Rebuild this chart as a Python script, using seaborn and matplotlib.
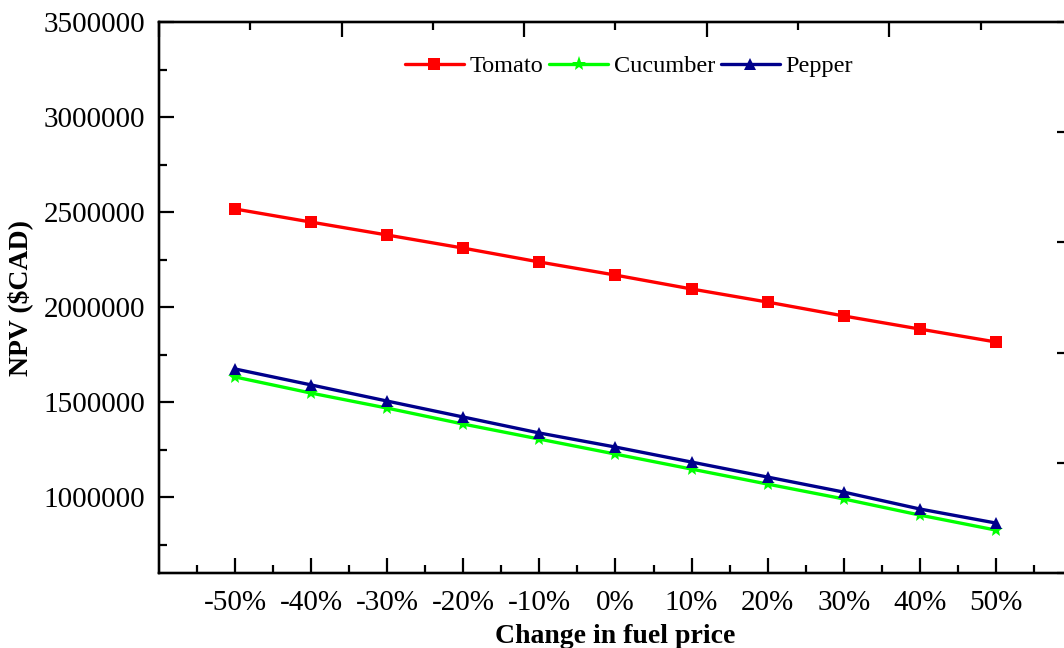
import matplotlib
matplotlib.use("Agg")
import matplotlib.pyplot as plt
from matplotlib.ticker import MultipleLocator, FuncFormatter
import pandas as pd
import seaborn as sns

# Sensitivity of NPV to fuel price change
fuel_change = [-50, -40, -30, -20, -10, 0, 10, 20, 30, 40, 50]
tomato = [2516000, 2447000, 2379000, 2310000, 2237000, 2168000,
          2095000, 2026000, 1953000, 1884000, 1816000]
cucumber = [1632000, 1547000, 1468000, 1384000, 1305000, 1226000,
            1147000, 1068000, 990000, 905000, 826000]
pepper = [1674000, 1590000, 1505000, 1421000, 1337000, 1263000,
          1184000, 1105000, 1026000, 937000, 863000]
crops = ["Tomato", "Cucumber", "Pepper"]
colors = {"Tomato": "#ff0000", "Cucumber": "#00ff00", "Pepper": "#00008b"}
markers = {"Tomato": "s", "Cucumber": "*", "Pepper": "^"}

df = pd.concat([
    pd.DataFrame({"change": fuel_change, "npv": vals, "crop": name})
    for name, vals in zip(crops, [tomato, cucumber, pepper])
])

sns.set_style("ticks")
plt.rcParams["font.family"] = ["Liberation Serif", "DejaVu Serif"]
plt.rcParams.update({
    "axes.linewidth": 1.6,
    "axes.edgecolor": "black",
    "text.color": "black",
    "axes.labelcolor": "black",
    "xtick.color": "black",
    "ytick.color": "black",
})

fig = plt.figure(figsize=(10.64, 6.48), dpi=100)
ax = fig.add_axes([0.1494, 0.1157, 0.8581, 0.8503])

sns.lineplot(data=df, x="change", y="npv", hue="crop", style="crop",
             hue_order=crops, style_order=crops, palette=colors,
             markers=markers, dashes=False, linewidth=2.4, markersize=8,
             markeredgewidth=0, ax=ax)
# the star marker reads small at the same size; enlarge it
for line in ax.lines:
    if line.get_marker() == "*":
        line.set_markersize(11)

ax.set_xlim(-60, 60)
ax.set_ylim(600000, 3500000)
ax.set_xticks(fuel_change)
ax.xaxis.set_minor_locator(MultipleLocator(10, offset=5))
ax.yaxis.set_major_locator(MultipleLocator(500000))
ax.yaxis.set_minor_locator(MultipleLocator(250000))
ax.xaxis.set_major_formatter(FuncFormatter(lambda v, p: f"{int(round(v))}%"))
ax.yaxis.set_major_formatter(FuncFormatter(lambda v, p: f"{int(round(v))}"))
ax.tick_params(which="major", direction="in", length=11, width=1.6,
               labelsize=21, pad=12)
ax.tick_params(which="minor", direction="in", length=6, width=1.6)
ax.tick_params(axis="y", pad=10)

ax.set_xlabel("Change in fuel price", fontsize=20, fontweight="bold", labelpad=6)
ax.set_ylabel("NPV ($CAD)", fontsize=20, fontweight="bold", labelpad=7)

# top and right frame ticks
top = ax.twiny()
top.set_xlim(0, 1)
top.xaxis.set_major_locator(MultipleLocator(0.2))
top.xaxis.set_minor_locator(MultipleLocator(0.1))
top.tick_params(which="major", direction="in", length=11, width=1.6,
                labeltop=False)
top.tick_params(which="minor", direction="in", length=6, width=1.6)
right = ax.twinx()
right.set_ylim(0, 1)
right.yaxis.set_major_locator(MultipleLocator(0.2))
right.tick_params(which="major", direction="in", length=11, width=1.6,
                  labelright=False)
for a in (top, right):
    for s in a.spines.values():
        s.set_linewidth(1.6)

handles, labels = ax.get_legend_handles_labels()
for h in handles:
    if h.get_marker() == "*":
        h.set_markersize(11)
ax.legend(handles, labels, loc="center", bbox_to_anchor=(0.515, 0.92),
          ncol=3, frameon=False, fontsize=17.5, handlelength=2.4,
          handletextpad=0.25, columnspacing=0.25)

fig.savefig("out.png", dpi=100)
